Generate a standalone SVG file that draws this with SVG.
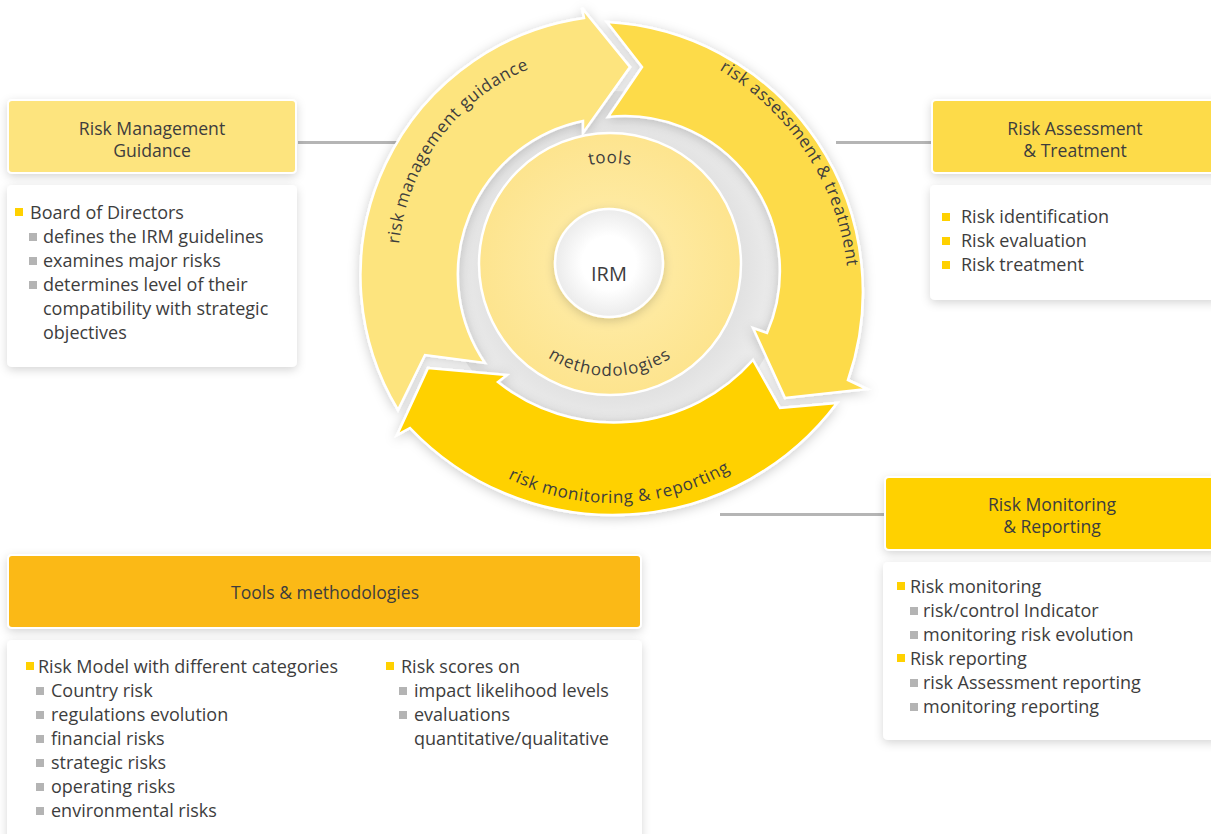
<svg xmlns="http://www.w3.org/2000/svg" width="1211" height="834" viewBox="0 0 1211 834">
<defs>
<style>
.t{font-family:"Open Sans","Liberation Sans",sans-serif;fill:#3d3d3d;}
.hd{font-size:17.6px;text-anchor:middle;}
.bd{font-size:18px;}
.al{font-size:17px;letter-spacing:0.6px;}
.yb{fill:#FFD100;}
.gb{fill:#B4B4B4;}
.card{fill:#fff;}
.hdr{stroke:#fff;stroke-width:2;}
.arr{stroke:#fff;stroke-width:2.5;stroke-linejoin:miter;}
.conn{stroke:#B5B5B5;stroke-width:3;fill:none;}
</style>
<filter id="sh" x="-10%" y="-20%" width="120%" height="150%">
<feDropShadow dx="0" dy="3" stdDeviation="5" flood-color="#000" flood-opacity="0.16"/>
</filter>
<filter id="ash" x="-20%" y="-20%" width="140%" height="140%">
<feDropShadow dx="0" dy="2" stdDeviation="6" flood-color="#000" flood-opacity="0.2"/>
</filter>
<radialGradient id="ring" cx="0.5" cy="0.5" r="0.5">
<stop offset="0.7" stop-color="#e0e0e0"/>
<stop offset="1" stop-color="#f0f0f0"/>
</radialGradient>
<radialGradient id="disk" cx="0.5" cy="0.5" r="0.5">
<stop offset="0.4" stop-color="#FEEAA2"/>
<stop offset="1" stop-color="#FDE48E"/>
</radialGradient>
<radialGradient id="irm" cx="0.5" cy="0.5" r="0.5">
<stop offset="0.5" stop-color="#ffffff"/>
<stop offset="1" stop-color="#ebebeb"/>
</radialGradient>
<path id="pA" d="M398.4,278.7 A214,214 0 0 1 562.4,57.8"/>
<path id="pB" d="M662.9,44.9 A264,264 0 0 1 846.9,328.5"/>
<path id="pC" d="M466.7,452 A233,233 0 0 0 769.9,441.4"/>
<path id="pT" d="M545.1,186.6 A101,101 0 0 1 674.9,186.6"/>
<path id="pM" d="M513,320 A112,112 0 0 0 707,320"/>
</defs>
<rect width="1211" height="834" fill="#ffffff"/>

<g id="connectors">
<line class="conn" x1="298" y1="142.5" x2="400" y2="142.5"/>
<line class="conn" x1="836" y1="142.5" x2="932" y2="142.5"/>
<line class="conn" x1="720" y1="514.5" x2="885" y2="514.5"/>
</g>

<g id="cycle">
<circle cx="614" cy="267" r="176" fill="url(#ring)"/>
<g filter="url(#ash)">
<path id="arrow-guidance" class="arr" fill="#FDE47E" d="M485,363 A157,157 0 0 1 583,121 L583,133 L630,67 L582,8 L584,18 A260,260 0 0 0 398,410 L425,355 Z"/>
<path id="arrow-assessment" class="arr" fill="#FDDB4A" d="M608,117 L642,67 L607,22 A270,270 0 0 1 848,380 L867,389 L785,398 L753,328 L767,333 A155,155 0 0 0 608,117 Z"/>
<path id="arrow-monitoring" class="arr" fill="#FFD100" d="M753,360 L780,408 L837,403 A280,280 0 0 1 410,428 L397,435 L428,368 L507,375 L498,382 A186,186 0 0 0 753,360 Z"/>
</g>
<text class="t al"><textPath href="#pA" startOffset="50%" text-anchor="middle">risk management guidance</textPath></text>
<text class="t al"><textPath href="#pB" startOffset="50%" text-anchor="middle">risk assessment &amp; treatment</textPath></text>
<text class="t al"><textPath href="#pC" startOffset="50%" text-anchor="middle">risk monitoring &amp; reporting</textPath></text>
<circle cx="610" cy="264" r="131" fill="url(#disk)" stroke="#fff" stroke-width="2.5"/>
<text class="t al"><textPath href="#pT" startOffset="50%" text-anchor="middle">tools</textPath></text>
<text class="t al" style="letter-spacing:1px"><textPath href="#pM" startOffset="50%" text-anchor="middle">methodologies</textPath></text>
<circle cx="609" cy="263" r="54" fill="url(#irm)" stroke="#fff" stroke-width="2.5" filter="url(#sh)"/>
<text class="t" x="609" y="281" font-size="20" text-anchor="middle">IRM</text>
</g>

<g id="node-guidance">
<rect class="hdr" x="8" y="100" width="288" height="73" rx="4" fill="#FDE47E" filter="url(#sh)"/>
<text class="t hd" x="152" y="135">Risk Management</text>
<text class="t hd" x="152" y="157">Guidance</text>
<rect class="card" x="7" y="185" width="290" height="182" rx="5" filter="url(#sh)"/>
<rect class="yb" x="15" y="208" width="8" height="8"/>
<text class="t bd" x="30" y="219">Board of Directors</text>
<rect class="gb" x="29" y="233" width="8" height="8"/>
<text class="t bd" x="43" y="243">defines the IRM guidelines</text>
<rect class="gb" x="29" y="257" width="8" height="8"/>
<text class="t bd" x="43" y="267">examines major risks</text>
<rect class="gb" x="29" y="281" width="8" height="8"/>
<text class="t bd" x="43" y="291">determines level of their</text>
<text class="t bd" x="43" y="315">compatibility with strategic</text>
<text class="t bd" x="43" y="339">objectives</text>
</g>

<g id="node-assessment">
<rect class="hdr" x="932" y="100" width="290" height="73" rx="4" fill="#FDDB4A" filter="url(#sh)"/>
<text class="t hd" x="1075" y="135">Risk Assessment</text>
<text class="t hd" x="1075" y="157">&amp; Treatment</text>
<rect class="card" x="930" y="185" width="290" height="115" rx="5" filter="url(#sh)"/>
<rect class="yb" x="942" y="213" width="8" height="8"/>
<text class="t bd" x="961" y="223">Risk identification</text>
<rect class="yb" x="942" y="237" width="8" height="8"/>
<text class="t bd" x="961" y="247">Risk evaluation</text>
<rect class="yb" x="942" y="261" width="8" height="8"/>
<text class="t bd" x="961" y="271">Risk treatment</text>
</g>

<g id="node-monitoring">
<rect class="hdr" x="885" y="477" width="335" height="73" rx="4" fill="#FFD100" filter="url(#sh)"/>
<text class="t hd" x="1052" y="511">Risk Monitoring</text>
<text class="t hd" x="1052" y="533">&amp; Reporting</text>
<rect class="card" x="883" y="562" width="337" height="178" rx="5" filter="url(#sh)"/>
<rect class="yb" x="897" y="582" width="8" height="8"/>
<text class="t bd" x="910" y="593">Risk monitoring</text>
<rect class="gb" x="910" y="607" width="8" height="8"/>
<text class="t bd" x="923" y="617">risk/control Indicator</text>
<rect class="gb" x="910" y="631" width="8" height="8"/>
<text class="t bd" x="923" y="641">monitoring risk evolution</text>
<rect class="yb" x="897" y="654" width="8" height="8"/>
<text class="t bd" x="910" y="665">Risk reporting</text>
<rect class="gb" x="910" y="679" width="8" height="8"/>
<text class="t bd" x="923" y="689">risk Assessment reporting</text>
<rect class="gb" x="910" y="703" width="8" height="8"/>
<text class="t bd" x="923" y="713">monitoring reporting</text>
</g>

<g id="node-tools">
<rect class="hdr" x="8" y="555" width="633" height="73" rx="4" fill="#FBB917" filter="url(#sh)"/>
<text class="t hd" x="325" y="599">Tools &amp; methodologies</text>
<rect class="card" x="7" y="640" width="635" height="210" rx="5" filter="url(#sh)"/>
<rect class="yb" x="26" y="662" width="8" height="8"/>
<text class="t bd" x="38" y="673">Risk Model with different categories</text>
<rect class="gb" x="36" y="687" width="8" height="8"/>
<text class="t bd" x="51" y="697">Country risk</text>
<rect class="gb" x="36" y="711" width="8" height="8"/>
<text class="t bd" x="51" y="721">regulations evolution</text>
<rect class="gb" x="36" y="735" width="8" height="8"/>
<text class="t bd" x="51" y="745">financial risks</text>
<rect class="gb" x="36" y="759" width="8" height="8"/>
<text class="t bd" x="51" y="769">strategic risks</text>
<rect class="gb" x="36" y="783" width="8" height="8"/>
<text class="t bd" x="51" y="793">operating risks</text>
<rect class="gb" x="36" y="807" width="8" height="8"/>
<text class="t bd" x="51" y="817">environmental risks</text>
<rect class="yb" x="386" y="662" width="8" height="8"/>
<text class="t bd" x="401" y="673">Risk scores on</text>
<rect class="gb" x="399" y="687" width="8" height="8"/>
<text class="t bd" x="414" y="697">impact likelihood levels</text>
<rect class="gb" x="399" y="711" width="8" height="8"/>
<text class="t bd" x="414" y="721">evaluations</text>
<text class="t bd" x="414" y="745">quantitative/qualitative</text>
</g>
</svg>
